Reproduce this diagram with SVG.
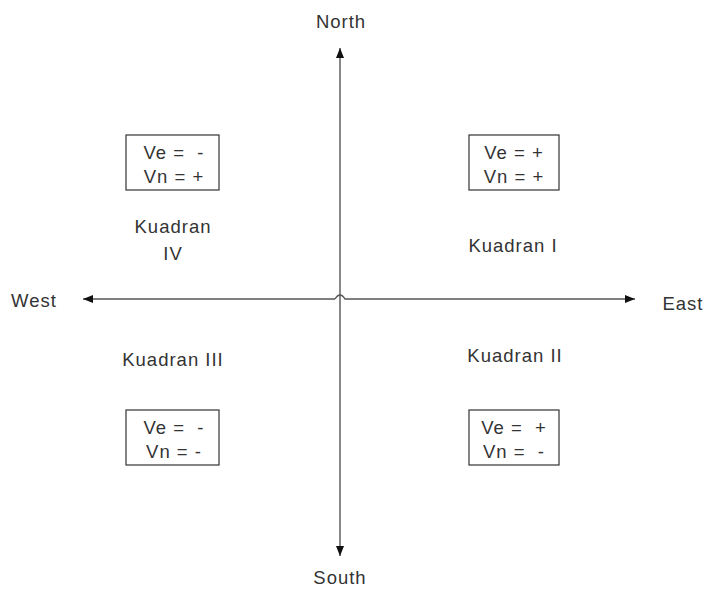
<svg xmlns="http://www.w3.org/2000/svg" width="708" height="589" viewBox="0 0 708 589">
<defs>
<marker id="arr" viewBox="0 0 10 8" refX="10" refY="4" markerWidth="11" markerHeight="8" markerUnits="userSpaceOnUse" orient="auto">
<path d="M0,0 L10,4 L0,8 Z" fill="#111"/>
</marker>
</defs>
<style>
text{font-family:"Liberation Sans",Arial,sans-serif;font-size:18.5px;letter-spacing:1px;fill:#333;text-anchor:middle}
.box{fill:#fff;stroke:#333;stroke-width:1.2}
.ax{fill:none;stroke:#555;stroke-width:1.4}
</style>
<rect width="708" height="589" fill="#fff"/>
<g id="connectors">
<path class="ax" d="M340,299 V48" marker-end="url(#arr)"/>
<path class="ax" d="M340,299 V556" marker-end="url(#arr)"/>
<path class="ax" d="M335,299 H83" marker-end="url(#arr)"/>
<path class="ax" d="M335,299 Q340,291 345,299 H635" marker-end="url(#arr)"/>
</g>
<g id="north"><text x="341" y="28">North</text></g>
<g id="south"><text x="340" y="584">South</text></g>
<g id="west"><text x="34" y="307">West</text></g>
<g id="east"><text x="683" y="310">East</text></g>
<g id="q4box"><rect class="box" x="126" y="135" width="93" height="55"/><text x="174" y="159" xml:space="preserve">Ve =  -</text><text x="174" y="183">Vn = +</text></g>
<g id="q1box"><rect class="box" x="469" y="135" width="90" height="55"/><text x="514" y="159">Ve = +</text><text x="514" y="183">Vn = +</text></g>
<g id="q3box"><rect class="box" x="126" y="410" width="93" height="55"/><text x="174" y="434" xml:space="preserve">Ve =  -</text><text x="174" y="458">Vn = -</text></g>
<g id="q2box"><rect class="box" x="469" y="410" width="90" height="55"/><text x="514" y="434" xml:space="preserve">Ve =  +</text><text x="514" y="458" xml:space="preserve">Vn =  -</text></g>
<g id="q4label"><text x="173" y="233">Kuadran</text><text x="173" y="260">IV</text></g>
<g id="q1label"><text x="513" y="252">Kuadran I</text></g>
<g id="q3label"><text x="173" y="366">Kuadran III</text></g>
<g id="q2label"><text x="515" y="362">Kuadran II</text></g>
</svg>
